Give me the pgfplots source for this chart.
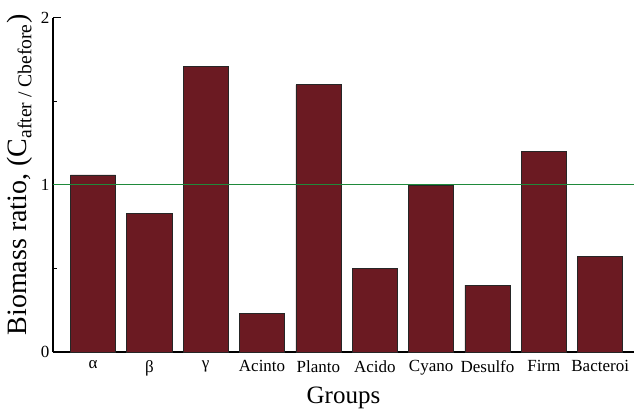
\documentclass[border=0pt]{standalone}
\usepackage{fontspec}
\setmainfont{Liberation Serif}
\usepackage{pgfplots}
\pgfplotsset{compat=1.18}
\definecolor{barred}{HTML}{6B1A22}
\definecolor{refgreen}{HTML}{1F8A3B}
\begin{document}
\begin{tikzpicture}
\begin{axis}[
  scale only axis,
  width=581pt, height=334pt,
  xmin=-0.71, xmax=9.6,
  ymin=0, ymax=2,
  axis x line*=bottom,
  axis y line*=left,
  axis line style={line width=2pt, black},
  xtick={0,...,9},
  xticklabels={α,β,γ,Acinto,Planto,Acido,Cyano,Desulfo,Firm,Bacteroi},
  xtick style={draw=none},
  ytick={0,1,2},
  minor ytick={0.5,1.5},
  tick align=inside,
  major tick length=8pt,
  minor tick length=4pt,
  every tick/.style={black, line width=1pt},
  /pgf/number format/assume math mode=true,
  ticklabel style={font=\fontsize{17}{19}\selectfont},
  yticklabel style={xshift=0pt},
  xticklabel style={yshift=-5pt},
  xlabel={Groups},
  xlabel style={font=\fontsize{25}{27}\selectfont, yshift=-4pt},
  ylabel={Biomass ratio, (C\textsubscript{after / Cbefore})},
  every axis y label/.style={at={(axis description cs:-0.058,0.53)}, rotate=90, anchor=center, font=\fontsize{28}{30}\selectfont},
  clip=false,
]
\addplot[ybar, bar width=0.8, fill=barred, draw=black!85, line width=0.7pt, bar shift=0pt]
  coordinates {(0,1.06) (1,0.83) (2,1.71) (3,0.23) (4,1.60) (5,0.50) (6,1.00) (7,0.40) (8,1.20) (9,0.57)};
\addplot[refgreen, line width=1pt] coordinates {(-0.71,1) (9.6,1)};
\end{axis}
\pgfresetboundingbox
\path (current axis.south west) ++(-53pt,-60pt) rectangle ++(634pt,412pt);
\end{tikzpicture}
\end{document}
